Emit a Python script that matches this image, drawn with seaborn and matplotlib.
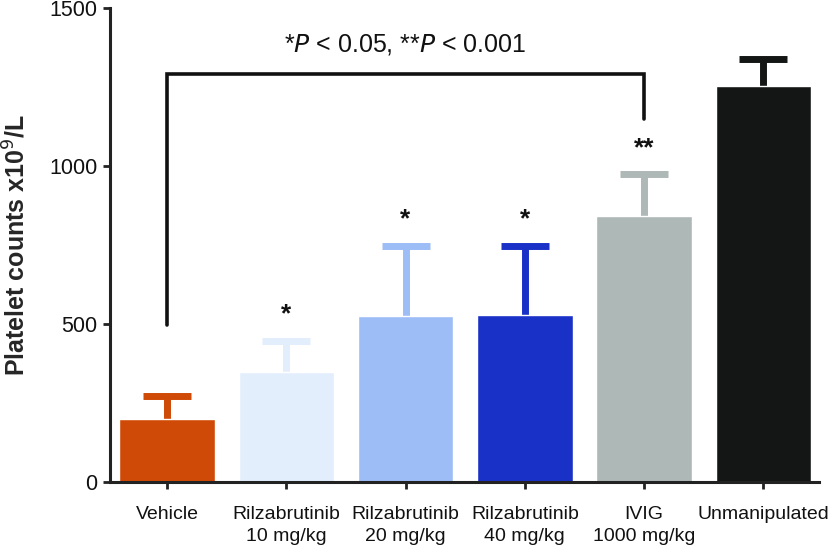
import matplotlib
matplotlib.use("Agg")
import matplotlib.pyplot as plt
import seaborn as sns
import pandas as pd
import numpy as np

categories = ["Vehicle", "Rilzabrutinib\n10 mg/kg", "Rilzabrutinib\n20 mg/kg",
              "Rilzabrutinib\n40 mg/kg", "IVIG\n1000 mg/kg", "Unmanipulated"]
means = [198, 347, 526, 528, 844, 1253]
upper = [272, 447, 747, 747, 975, 1340]
colors = ["#CF4A06", "#E3EEFC", "#9DBDF7", "#1A31C8", "#AEB8B7", "#141616"]
stars = ["", "*", "*", "*", "**", ""]
star_y = [0, 532, 832, 832, 1056, 0]
yticks = [0, 500, 1000, 1500]

sns.set_theme(style="ticks")
plt.rcParams["font.family"] = ["Liberation Sans", "DejaVu Sans"]

fig = plt.figure(figsize=(8.29, 5.52), dpi=100)
ax = fig.add_axes([0.1327, 0.1268, 0.855, 0.858])

df = pd.DataFrame({"cat": categories, "mean": means})
sns.barplot(data=df, x="cat", y="mean", hue="cat", palette=colors, legend=False,
            errorbar=None, width=0.8, saturation=1, ax=ax, zorder=2)

for i, (m, u, c) in enumerate(zip(means, upper, colors)):
    eb = ax.errorbar(i, m, yerr=[[0], [u - m]], fmt="none", ecolor=c,
                     elinewidth=5, capsize=17.5, capthick=5, zorder=1)
    caps = eb.lines[1]
    if len(caps) == 2:
        caps[0].set_visible(False)

for i, (s, y) in enumerate(zip(stars, star_y)):
    if s:
        ax.text(i, y, s, ha="center", va="center", fontsize=19, fontweight="bold",
                color="#111111")

# significance bracket
ax.plot([0, 0, 4, 4], [498, 1293, 1293, 1150], color="#111111", lw=2.6,
        solid_joinstyle="miter", clip_on=False)
ax.text(2.0, 1387, r"*$\it{P}$ < 0.05, **$\it{P}$ < 0.001", ha="center", va="center",
        fontsize=18, color="#111111")

ax.set_ylim(0, 1500)
ax.set_xlim(-0.478, 5.465)
ax.set_yticks(yticks)
ax.set_xlabel("")
ax.set_ylabel("Platelet counts x10$^9$/L", fontsize=18, fontweight="bold", labelpad=14)
sns.despine(ax=ax)
for sp in ["left", "bottom"]:
    ax.spines[sp].set_linewidth(2.2)
    ax.spines[sp].set_color("#222222")
ax.tick_params(axis="both", length=5, width=2, color="#222222",
               labelcolor="#111111")
ax.tick_params(axis="y", labelsize=15.5, pad=4)
ax.tick_params(axis="x", labelsize=14, pad=12)
for lbl in ax.get_xticklabels():
    lbl.set_linespacing(1.4)

fig.savefig("out.png", dpi=100)
